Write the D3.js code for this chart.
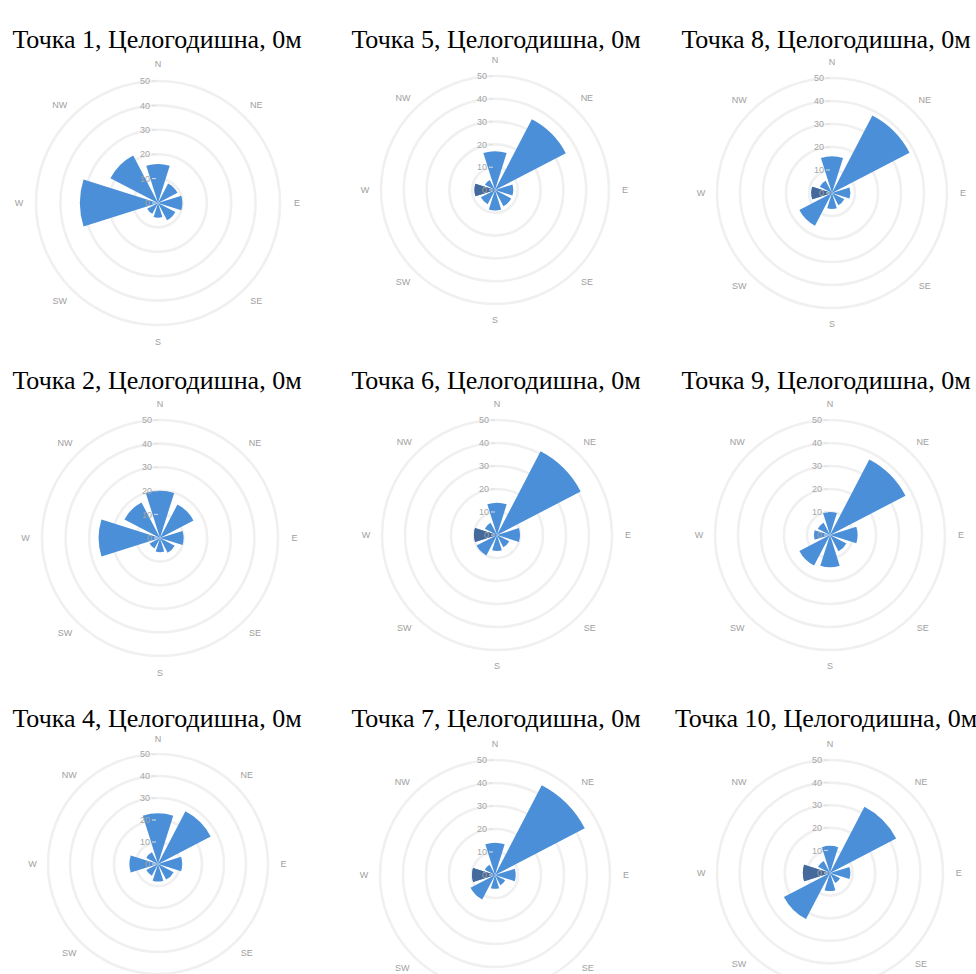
<!DOCTYPE html>
<html>
<head>
<meta charset="utf-8">
<script src="https://cdn.jsdelivr.net/npm/d3@7"></script>
<style>
	body { margin: 0; background: #fff; }
	svg { display: block; }
</style>
</head>
<body>
<div id="chart"></div>
<script>
//wind directions and rings
let directions = ["N", "NE", "E", "SE", "S", "SW", "W", "NW"];
let ringTicks = [0, 10, 20, 30, 40, 50];

//titles, in grid order (row by row)
let titles = [
	"Точка 1, Целогодишна, 0м", "Точка 5, Целогодишна, 0м", "Точка 8, Целогодишна, 0м",
	"Точка 2, Целогодишна, 0м", "Точка 6, Целогодишна, 0м", "Точка 9, Целогодишна, 0м",
	"Точка 4, Целогодишна, 0м", "Точка 7, Целогодишна, 0м", "Точка 10, Целогодишна, 0м"
];

//frequency per direction, N NE E SE S SW W NW
let point1  = [16, 9, 10, 8, 6, 5, 32, 22];
let point5  = [17, 35, 8, 8, 9, 7, 9, 5];
let point8  = [16, 38, 8, 6, 7, 16, 9, 6];
let point2  = [20, 16, 10, 7, 6, 5, 26, 17];
let point6  = [14, 41, 10, 6, 7, 10, 10, 6];
let point9  = [10, 37, 12, 8, 14, 15, 7, 6];
let point4  = [23, 27, 11, 8, 8, 6, 13, 6];
let point7  = [14, 44, 9, 5, 6, 12, 10, 5];
let point10 = [12, 33, 9, 5, 8, 23, 12, 6];

//darker (low class) part of the west sector, grid order
let westDark = [0, 9, 9, 0, 10, 0, 0, 10, 12];

let series = [point1, point5, point8, point2, point6, point9, point4, point7, point10];

//placement of every rose: center and radius of the 50 ring
let layout = [
	{cx: 158, cy: 203, r: 122}, {cx: 495, cy: 190, r: 114}, {cx: 832, cy: 193, r: 115},
	{cx: 160, cy: 538, r: 118}, {cx: 497, cy: 535, r: 115}, {cx: 830, cy: 535, r: 115},
	{cx: 158, cy: 864, r: 110}, {cx: 495, cy: 875, r: 115}, {cx: 830, cy: 873, r: 113}
];
let titleX = [157, 496, 826];
let titleY = [48, 389, 727];

let width = 976;
let height = 974;

let svg = d3.select("#chart")
	.append("svg")
	.attr("width", width)
	.attr("height", height);

let blue = "#4a8fd7";
let dark = "#44699a";
let halfWidth = 17.5 * Math.PI / 180;

function drawRose(i){
	let pos = layout[i];
	let values = series[i];

	let rScale = d3.scaleLinear()
		.domain([0, 50])
		.range([0, pos.r]);

	let g = svg.append("g")
		.attr("transform", `translate(${pos.cx},${pos.cy})`);

	//rings
	g.selectAll(".ring")
		.data(ringTicks.filter(d => d > 0))
		.enter()
		.append("circle")
		.attr("class", "ring")
		.attr("r", d => rScale(d))
		.attr("fill", "none")
		.attr("stroke", "#f0f0f0")
		.attr("stroke-width", 2.6);

	let arc = d3.arc()
		.innerRadius(0)
		.outerRadius(d => rScale(d.v))
		.startAngle(d => d.a - halfWidth)
		.endAngle(d => d.a + halfWidth);

	let step = 2 * Math.PI / directions.length;
	let wedges = values.map((v, k) => ({v: v, a: k * step}));

	g.selectAll(".wedge")
		.data(wedges)
		.enter()
		.append("path")
		.attr("class", "wedge")
		.attr("d", arc)
		.attr("fill", blue);

	//darker west part
	if (westDark[i] > 0){
		g.append("path")
			.attr("d", arc({v: westDark[i], a: directions.indexOf("W") * step}))
			.attr("fill", dark);
	}

	//value axis labels
	g.selectAll(".tick")
		.data(ringTicks)
		.enter()
		.append("text")
		.attr("class", "tick")
		.attr("x", -8)
		.attr("y", d => -rScale(d))
		.attr("dy", "0.35em")
		.attr("text-anchor", "end")
		.attr("font-family", "Liberation Sans, Arial, sans-serif")
		.attr("font-size", 9)
		.attr("fill", "#a6a6a6")
		.text(d => d);

	g.selectAll(".tickmark")
		.data(ringTicks)
		.enter()
		.append("line")
		.attr("x1", -6)
		.attr("x2", -2)
		.attr("y1", d => -rScale(d))
		.attr("y2", d => -rScale(d))
		.attr("stroke", "#dedede");

	//direction labels, only those that fall inside the page
	let labelR = pos.r * 1.14;
	let dirs = directions.map((d, k) => ({
		name: d,
		x: Math.sin(k * step) * labelR,
		y: -Math.cos(k * step) * labelR
	})).filter(d => pos.cy + d.y < height - 6);

	g.selectAll(".dir")
		.data(dirs)
		.enter()
		.append("text")
		.attr("class", "dir")
		.attr("x", d => d.x)
		.attr("y", d => d.y)
		.attr("dy", "0.35em")
		.attr("text-anchor", "middle")
		.attr("font-family", "Liberation Sans, Arial, sans-serif")
		.attr("font-size", 9)
		.attr("fill", "#a0a0a0")
		.text(d => d.name);

	//title
	svg.append("text")
		.attr("x", titleX[i % 3])
		.attr("y", titleY[Math.floor(i / 3)])
		.attr("text-anchor", "middle")
		.attr("font-family", "Liberation Serif, Times New Roman, serif")
		.attr("font-size", 26)
		.attr("fill", "#000")
		.text(titles[i]);
}

for (let i = 0; i < series.length; i++) drawRose(i);
</script>
</body>
</html>
